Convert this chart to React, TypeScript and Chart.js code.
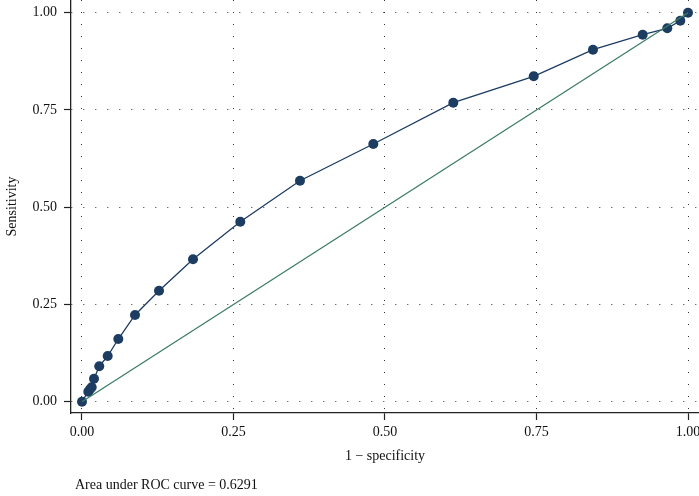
import React, { useEffect, useRef } from "react";
import { Chart, registerables } from "chart.js";

Chart.register(...registerables);

// 1 - specificity (false positive rate)
const fpr = [0, 0.0104, 0.0132, 0.016, 0.0198, 0.0285, 0.0424, 0.0599, 0.0875, 0.1271, 0.1832, 0.2612, 0.3597, 0.4807, 0.6127, 0.7454, 0.8432, 0.9252, 0.9658, 0.9873, 1];
// sensitivity
const tpr = [0, 0.0257, 0.0319, 0.037, 0.0591, 0.091, 0.1175, 0.1612, 0.2229, 0.2853, 0.366, 0.4627, 0.5681, 0.6625, 0.7686, 0.8365, 0.9049, 0.9434, 0.9599, 0.9794, 1];
const refX = [0, 1];
const refY = [0, 1];
const tickValues = [0, 0.25, 0.5, 0.75, 1];
const xTitle = "1 \u2212 specificity";
const yTitle = "Sensitivity";
const caption = "Area under ROC curve = 0.6291";

const FONT = "'Liberation Serif', 'DejaVu Serif', serif";
const NAVY = "#1d3c62";
const GREEN = "#3d7d67";
const AXIS = "#222222";
const GRID = "#333333";

export default function App() {
  const ref = useRef<HTMLCanvasElement | null>(null);

  useEffect(() => {
    if (!ref.current) return;
    const captionPlugin = {
      id: "caption",
      afterDraw(chart: any) {
        const ctx = chart.ctx;
        ctx.save();
        ctx.font = `14px ${FONT}`;
        ctx.fillStyle = "#111111";
        ctx.textAlign = "left";
        ctx.textBaseline = "middle";
        ctx.fillText(caption, 75, 485);
        ctx.restore();
      },
    };
    const setTicks = (scale: any) => {
      scale.ticks = tickValues.map((v) => ({ value: v }));
    };
    const chart = new Chart(ref.current, {
      type: "scatter",
      data: {
        datasets: [
          {
            label: "Reference",
            data: refX.map((x, i) => ({ x, y: refY[i] })),
            showLine: true,
            borderColor: GREEN,
            borderWidth: 1.3,
            pointRadius: 0,
            pointHoverRadius: 0,
          },
          {
            label: "ROC",
            data: fpr.map((x, i) => ({ x, y: tpr[i] })),
            showLine: true,
            borderColor: NAVY,
            borderWidth: 1.3,
            backgroundColor: NAVY,
            pointBackgroundColor: NAVY,
            pointBorderColor: NAVY,
            pointRadius: 5,
            pointBorderWidth: 0,
          },
        ],
      },
      options: {
        animation: false,
        responsive: true,
        maintainAspectRatio: false,
        layout: { padding: 0, autoPadding: false },
        plugins: {
          legend: { display: false },
          tooltip: { enabled: false },
        },
        scales: {
          x: {
            type: "linear",
            min: -0.01815,
            max: 1.01815,
            afterBuildTicks: setTicks,
            afterFit: (scale: any) => {
              scale.height = 83;
              scale.paddingLeft = 0;
              scale.paddingRight = 0;
            },
            ticks: {
              callback: (v: any) => Number(v).toFixed(2),
              font: { family: FONT, size: 14 },
              color: "#111111",
              padding: 4,
              maxRotation: 0,
              autoSkip: false,
            },
            grid: {
              color: GRID,
              lineWidth: 1,
              tickLength: 7,
              tickColor: AXIS,
              tickWidth: 1.2,
              tickBorderDash: [],
            },
            border: { display: true, color: AXIS, width: 1.3, dash: [1, 11] },
            title: {
              display: true,
              text: xTitle,
              font: { family: FONT, size: 14 },
              color: "#111111",
              padding: { top: 0, bottom: 31.6 },
            },
          },
          y: {
            type: "linear",
            min: -0.029,
            max: 1.0326,
            afterBuildTicks: setTicks,
            afterFit: (scale: any) => {
              scale.width = 71;
              scale.paddingTop = 0;
              scale.paddingBottom = 0;
            },
            ticks: {
              callback: (v: any) => Number(v).toFixed(2),
              font: { family: FONT, size: 14 },
              color: "#111111",
              padding: 7,
              autoSkip: false,
            },
            grid: {
              color: GRID,
              lineWidth: 1,
              tickLength: 7,
              tickColor: AXIS,
              tickWidth: 1.2,
              tickBorderDash: [],
            },
            border: { display: true, color: AXIS, width: 1.3, dash: [1, 11] },
            title: {
              display: true,
              text: yTitle,
              font: { family: FONT, size: 14 },
              color: "#111111",
              padding: { top: 3.6, bottom: 0 },
            },
          },
        },
      },
      plugins: [captionPlugin],
    } as any);
    return () => chart.destroy();
  }, []);

  return (
    <div style={{ position: "fixed", left: 0, top: 0, width: 699, height: 496, background: "#ffffff" }}>
      <canvas ref={ref} />
    </div>
  );
}
